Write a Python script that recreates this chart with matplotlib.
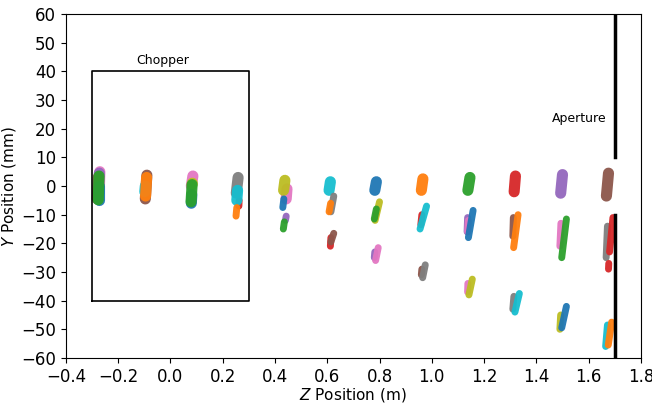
import matplotlib
matplotlib.use("Agg")
import matplotlib.pyplot as plt
import numpy as np

# Particle bunches, read off the picture as short streaks:
# (tab10 colour, z at bottom [m], y at bottom [mm], z at top [m], y at top [mm])
streaks = [
    # z ~ -0.27
    ("C6", -0.272, -2.0, -0.270, 5.0),
    ("C4", -0.278, -3.0, -0.272, 4.5),
    ("C5", -0.280, -4.5, -0.276, 3.0),
    ("C0", -0.275, -5.0, -0.275, 0.0),
    ("C2", -0.276, -4.8, -0.273, 3.5),
    # z ~ -0.09
    ("C5", -0.096, -4.5, -0.090, 3.8),
    ("C9", -0.098, -2.0, -0.096, 0.0),
    ("C1", -0.095, -3.5, -0.091, 3.0),
    # z ~ 0.08
    ("C6", 0.080, 0.0, 0.086, 3.5),
    ("C8", 0.083, 0.5, 0.084, 1.0),
    ("C0", 0.080, -6.0, 0.082, -3.0),
    ("C2", 0.079, -5.5, 0.083, 0.5),
    # z ~ 0.26
    ("C3", 0.262, -7.0, 0.263, -5.0),
    ("C7", 0.252, -2.5, 0.259, 3.0),
    ("C9", 0.254, -5.0, 0.257, -1.5),
    ("C1", 0.251, -10.5, 0.254, -7.5),
    # z ~ 0.44
    ("C6", 0.443, -4.5, 0.446, -1.0),
    ("C8", 0.433, -1.5, 0.438, 2.0),
    ("C0", 0.430, -7.5, 0.434, -4.5),
    ("C4", 0.440, -12.0, 0.443, -10.5),
    ("C2", 0.432, -15.0, 0.436, -12.5),
    # z ~ 0.61
    ("C9", 0.607, -1.5, 0.612, 1.5),
    ("C7", 0.614, -9.0, 0.625, -3.5),
    ("C1", 0.607, -9.0, 0.613, -6.0),
    ("C3", 0.612, -21.0, 0.614, -18.0),
    ("C5", 0.614, -19.5, 0.625, -16.5),
    # z ~ 0.79
    ("C0", 0.782, -1.5, 0.788, 1.5),
    ("C8", 0.783, -12.0, 0.800, -5.5),
    ("C2", 0.780, -11.5, 0.788, -8.0),
    ("C4", 0.780, -25.0, 0.782, -23.0),
    ("C6", 0.785, -26.0, 0.795, -21.5),
    # z ~ 0.96
    ("C1", 0.960, -1.5, 0.966, 2.5),
    ("C3", 0.958, -13.5, 0.962, -10.0),
    ("C9", 0.955, -15.0, 0.980, -7.0),
    ("C5", 0.960, -31.0, 0.962, -29.0),
    ("C7", 0.965, -32.0, 0.975, -27.5),
    # z ~ 1.14
    ("C2", 1.138, -1.5, 1.146, 3.0),
    ("C4", 1.135, -16.0, 1.137, -11.0),
    ("C6", 1.137, -16.0, 1.140, -12.0),
    ("C0", 1.140, -18.0, 1.158, -8.5),
    ("C6", 1.137, -37.0, 1.138, -34.0),
    ("C8", 1.142, -38.0, 1.155, -32.5),
    # z ~ 1.32
    ("C3", 1.315, -2.0, 1.320, 3.5),
    ("C5", 1.310, -17.5, 1.312, -11.0),
    ("C1", 1.313, -21.5, 1.330, -10.0),
    ("C7", 1.310, -43.0, 1.314, -38.5),
    ("C9", 1.318, -44.0, 1.335, -37.5),
    # z ~ 1.50
    ("C4", 1.493, -2.5, 1.500, 4.0),
    ("C6", 1.490, -21.0, 1.494, -13.0),
    ("C2", 1.497, -25.0, 1.515, -11.5),
    ("C8", 1.490, -50.0, 1.493, -45.0),
    ("C0", 1.497, -49.5, 1.515, -42.0),
    # z ~ 1.67
    ("C5", 1.668, -3.5, 1.676, 4.5),
    ("C7", 1.667, -25.0, 1.672, -14.0),
    ("C3", 1.680, -23.0, 1.693, -11.0),
    ("C3", 1.676, -29.0, 1.677, -27.0),
    ("C9", 1.665, -56.0, 1.672, -48.5),
    ("C1", 1.675, -55.5, 1.688, -47.5),
]

# chopper box and aperture
chopper_z = [-0.3, 0.3]
chopper_y = [-40, 40]
aperture_z = 1.70
aperture_gap = [-10, 10]
y_limits = [-60, 60]
z_limits = [-0.4, 1.8]


def main():
    fig = plt.figure(figsize=(6.52, 4.04), dpi=100)
    ax = fig.add_axes([0.101, 0.114, 0.882, 0.851])

    for color, z0, y0, z1, y1 in streaks:
        # undeflected bunches near y=0 are fatter blobs
        core = y1 > -6 and y0 > -7
        ax.plot([z0, z1], [y0, y1], color=color, lw=8 if core else 5,
                solid_capstyle="round", alpha=0.95)

    # chopper
    ax.plot([chopper_z[0], chopper_z[1], chopper_z[1], chopper_z[0], chopper_z[0]],
            [chopper_y[0], chopper_y[0], chopper_y[1], chopper_y[1], chopper_y[0]],
            color="black", lw=1.2)
    ax.text(-0.03, chopper_y[1] + 1.5, "Chopper",
            ha="center", va="bottom", fontsize=9)

    # aperture
    ax.plot([aperture_z, aperture_z], [aperture_gap[1], y_limits[1]], color="black", lw=2.5)
    ax.plot([aperture_z, aperture_z], [y_limits[0], aperture_gap[0]], color="black", lw=2.5)
    ax.text(1.565, 23.5, "Aperture", ha="center", va="center", fontsize=9)

    ax.set_xlim(z_limits)
    ax.set_ylim(y_limits)
    ax.set_xticks(np.arange(-0.4, 1.81, 0.2))
    ax.set_yticks(np.arange(-60, 61, 10))
    ax.tick_params(labelsize=12)
    ax.set_xlabel("$Z$ Position (m)", fontsize=11, labelpad=0)
    ax.set_ylabel("$Y$ Position (mm)", fontsize=11, labelpad=2)

    fig.savefig("out.png", dpi=100)
    plt.close(fig)


if __name__ == "__main__":
    main()
